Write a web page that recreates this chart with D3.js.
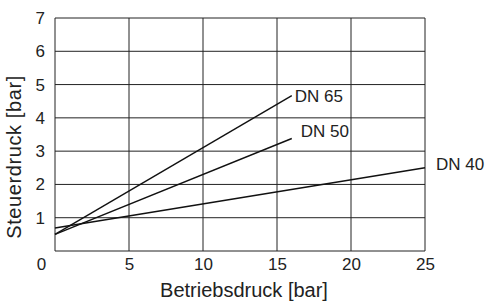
<!DOCTYPE html>
<html>
<head>
<meta charset="utf-8">
<script src="https://cdn.jsdelivr.net/npm/d3@7"></script>
<style>
    body { margin: 0; background: #fff; }
    text { font-family: "Liberation Sans", Arial, sans-serif; fill: #222; }
</style>
</head>
<body>
<svg id="chart" width="486" height="302"></svg>
<script>
// Betriebsdruck [bar] -> Steuerdruck [bar]
const series_names = ["DN 65", "DN 50", "DN 40"];
const series_points = [
    [[0, 0.5], [16, 4.67]],
    [[0, 0.5], [16, 3.38]],
    [[0, 0.69], [25, 2.5]]
];
const x_ticks = [0, 5, 10, 15, 20, 25];
const y_ticks = [1, 2, 3, 4, 5, 6, 7];
const label_offsets = [[3, 0], [9, -7], [11, -4]];

const width = 486, height = 302;
const margin = { top: 18, right: 61, bottom: 51, left: 55 };

let svg = d3.select("#chart");

let x = d3.scaleLinear()
    .domain([0, 25])
    .range([margin.left, width - margin.right]);

let y = d3.scaleLinear()
    .domain([0, 7])
    .range([height - margin.bottom, margin.top]);

// grid
let grid = svg.append("g")
    .attr("stroke", "#222")
    .attr("stroke-width", 1);

grid.selectAll("line.v")
    .data(x_ticks)
    .join("line")
    .classed("v", true)
    .attr("x1", d => x(d))
    .attr("x2", d => x(d))
    .attr("y1", y(0))
    .attr("y2", y(7));

grid.selectAll("line.h")
    .data([0].concat(y_ticks))
    .join("line")
    .classed("h", true)
    .attr("x1", x(0))
    .attr("x2", x(25))
    .attr("y1", d => y(d))
    .attr("y2", d => y(d));

// axes, only the labels are kept
let x_axis = svg.append("g")
    .attr("transform", `translate(0 ${y(0)})`)
    .call(d3.axisBottom(x).tickValues(x_ticks).tickFormat(d3.format("d")).tickSize(0).tickPadding(7));

x_axis.select(".domain").remove();
x_axis.selectAll("text")
    .attr("font-size", 17)
    .attr("font-family", null)
    .attr("dx", d => d === 0 ? -14 : 0);

let y_axis = svg.append("g")
    .attr("transform", `translate(${x(0)} 0)`)
    .call(d3.axisLeft(y).tickValues(y_ticks).tickFormat(d3.format("d")).tickSize(0).tickPadding(10));

y_axis.select(".domain").remove();
y_axis.selectAll("text")
    .attr("font-size", 17)
    .attr("font-family", null);

// titles
svg.append("text")
    .attr("x", 244)
    .attr("y", 297)
    .attr("text-anchor", "middle")
    .attr("font-size", 20)
    .text("Betriebsdruck [bar]");

svg.append("text")
    .attr("transform", `translate(21 157) rotate(-90)`)
    .attr("text-anchor", "middle")
    .attr("font-size", 20)
    .attr("letter-spacing", 0.6)
    .text("Steuerdruck [bar]");

// lines
let line = d3.line()
    .x(d => x(d[0]))
    .y(d => y(d[1]));

svg.append("g")
    .selectAll("path")
    .data(series_points)
    .join("path")
    .attr("d", line)
    .attr("fill", "none")
    .attr("stroke", "#111")
    .attr("stroke-width", 1.4);

svg.append("g")
    .selectAll("text")
    .data(series_names)
    .join("text")
    .attr("x", (d, i) => x(series_points[i][1][0]) + label_offsets[i][0])
    .attr("y", (d, i) => y(series_points[i][1][1]) + label_offsets[i][1])
    .attr("dy", "0.35em")
    .attr("font-size", 17)
    .text(d => d);
</script>
</body>
</html>
